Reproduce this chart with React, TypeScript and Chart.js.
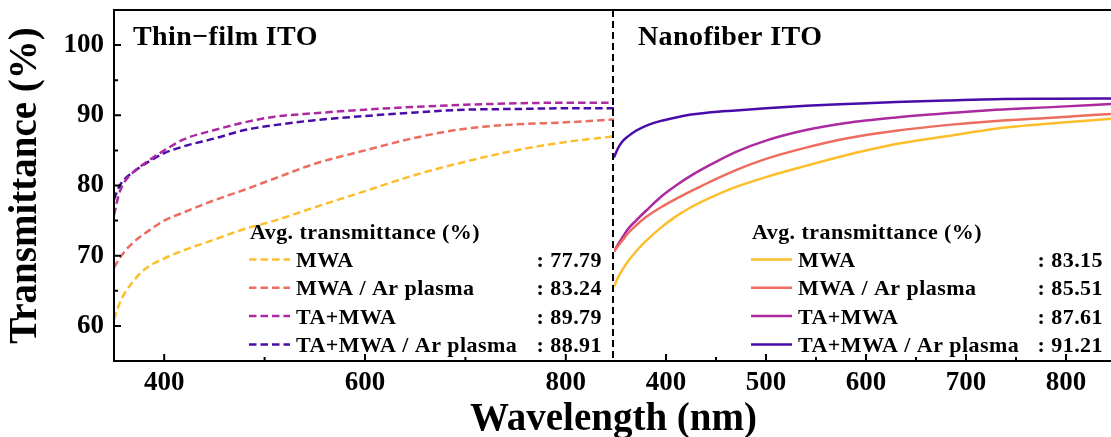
import { useEffect, useRef } from "react";
import { Chart, registerables } from "chart.js";
Chart.register(...registerables);

const FONT = '"Liberation Serif", "Times New Roman", serif';

const seriesLabels = ["MWA", "MWA / Ar plasma", "TA+MWA", "TA+MWA / Ar plasma"];
const seriesColors = ["#FDBE2D", "#EC6C5F", "#AC2A9F", "#4A0CA9"];

// Thin-film ITO (dashed)
const thinWavelength = [350, 355, 360, 370, 380, 400, 420, 450, 480, 510, 550, 600, 650, 700, 750, 800, 848];
const thinMWA = [60.9, 63.0, 64.5, 66.5, 68.0, 69.6, 70.8, 72.3, 73.8, 75.0, 76.9, 79.2, 81.5, 83.4, 85.0, 86.2, 87.0];
const thinMWAAr = [68.3, 69.5, 70.5, 72.0, 73.1, 75.0, 76.2, 77.9, 79.4, 81.0, 83.1, 85.0, 86.8, 88.1, 88.7, 89.0, 89.4];
const thinTAMWA = [75.8, 78.8, 80.4, 82.0, 83.1, 85.0, 86.6, 87.9, 89.0, 89.8, 90.3, 90.8, 91.2, 91.5, 91.7, 91.8, 91.8];
const thinTAMWAAr = [78.0, 79.8, 80.8, 82.0, 83.0, 84.6, 85.6, 86.7, 87.9, 88.6, 89.3, 89.9, 90.4, 90.8, 90.9, 91.0, 91.0];
const thinAvg = [77.79, 83.24, 89.79, 88.91];

// Nanofiber ITO (solid)
const nanoWavelength = [348, 352, 356, 362, 370, 380, 395, 410, 425, 445, 470, 500, 540, 580, 630, 680, 730, 790, 845];
const nanoMWA = [65.6, 66.9, 67.9, 69.2, 70.6, 72.1, 74.0, 75.6, 76.9, 78.3, 79.8, 81.2, 82.8, 84.3, 85.9, 87.0, 88.1, 88.9, 89.5];
const nanoMWAAr = [70.6, 71.4, 72.1, 73.2, 74.3, 75.5, 76.9, 78.1, 79.2, 80.6, 82.2, 83.8, 85.4, 86.7, 87.8, 88.6, 89.2, 89.7, 90.2];
const nanoTAMWA = [70.6, 71.6, 72.5, 73.8, 75.0, 76.4, 78.4, 80.0, 81.4, 83.0, 84.8, 86.4, 87.9, 88.9, 89.7, 90.3, 90.8, 91.2, 91.6];
const nanoTAMWAAr = [84.0, 85.3, 86.2, 87.0, 87.8, 88.5, 89.2, 89.7, 90.1, 90.45, 90.7, 91.0, 91.35, 91.6, 91.9, 92.1, 92.3, 92.35, 92.4];
const nanoAvg = [83.15, 85.51, 87.61, 91.21];

const yMajorTicks = [60, 70, 80, 90, 100];
const yMinorTicks = [65, 75, 85, 95];
const thinMajorTicks = [400, 600, 800];
const thinMinorTicks = [500, 700];
const nanoMajorTicks = [400, 500, 600, 700, 800];
const nanoMinorTicks = [450, 550, 650, 750];

const Y_MIN = 55;
const Y_MAX = 105;

type PanelCfg = {
  isLeft: boolean;
  title: string;
  titleX: number;
  legendX: number;
  valueRight: number;
  avg: number[];
  dash: number[];
  majors: number[];
  minors: number[];
};

function decoPlugin(cfg: PanelCfg) {
  return {
    id: "deco",
    afterDraw(chart: any) {
      const { ctx, chartArea: a, scales } = chart;
      const xs = scales.x;
      const ys = scales.y;
      ctx.save();
      ctx.strokeStyle = "#000";
      ctx.lineWidth = 2;
      ctx.setLineDash([]);
      ctx.beginPath();
      const x0 = cfg.isLeft ? a.left - 1 : 0;
      ctx.moveTo(x0, a.top);
      ctx.lineTo(chart.width, a.top);
      ctx.moveTo(x0, a.bottom);
      ctx.lineTo(chart.width, a.bottom);
      if (cfg.isLeft) {
        ctx.moveTo(a.left, a.top - 1);
        ctx.lineTo(a.left, a.bottom + 1);
      }
      for (const v of cfg.majors) {
        const px = xs.getPixelForValue(v);
        ctx.moveTo(px, a.bottom);
        ctx.lineTo(px, a.bottom - 7);
      }
      for (const v of cfg.minors) {
        const px = xs.getPixelForValue(v);
        ctx.moveTo(px, a.bottom);
        ctx.lineTo(px, a.bottom - 4);
      }
      if (cfg.isLeft) {
        for (const v of yMajorTicks) {
          const py = ys.getPixelForValue(v);
          ctx.moveTo(a.left, py);
          ctx.lineTo(a.left + 7, py);
        }
        for (const v of yMinorTicks) {
          const py = ys.getPixelForValue(v);
          ctx.moveTo(a.left, py);
          ctx.lineTo(a.left + 4, py);
        }
      }
      ctx.stroke();

      if (cfg.isLeft) {
        ctx.beginPath();
        ctx.setLineDash([7, 4]);
        ctx.moveTo(a.right - 1, a.top);
        ctx.lineTo(a.right - 1, a.bottom);
        ctx.stroke();
        ctx.setLineDash([]);
      }

      // panel title
      ctx.fillStyle = "#000";
      ctx.textBaseline = "alphabetic";
      ctx.textAlign = "left";
      try {
        (ctx as any).letterSpacing = "0.4px";
      } catch (e) {}
      ctx.font = `bold 28px ${FONT}`;
      ctx.fillText(cfg.title, cfg.titleX, 45);

      // legend
      try {
        (ctx as any).letterSpacing = "0.45px";
      } catch (e) {}
      ctx.font = `bold 22px ${FONT}`;
      ctx.fillText("Avg. transmittance (%)", cfg.legendX + 1, 239);
      const datasets = chart.data.datasets;
      datasets.forEach((ds: any, i: number) => {
        const base = 267 + i * 28.3;
        ctx.beginPath();
        ctx.strokeStyle = ds.borderColor;
        ctx.lineWidth = 2.5;
        ctx.setLineDash(cfg.dash);
        ctx.moveTo(cfg.legendX, base - 7.5);
        ctx.lineTo(cfg.legendX + 41, base - 7.5);
        ctx.stroke();
        ctx.setLineDash([]);
        ctx.fillStyle = "#000";
        ctx.textAlign = "left";
        ctx.fillText(ds.label, cfg.legendX + 47, base);
        ctx.textAlign = "right";
        ctx.fillText(": " + cfg.avg[i].toFixed(2), cfg.valueRight, base);
      });
      try {
        (ctx as any).letterSpacing = "0px";
      } catch (e) {}
      ctx.restore();
    },
  };
}

function makeDatasets(xsArr: number[], series: number[][], dash: number[]) {
  return series.map((vals, i) => ({
    label: seriesLabels[i],
    data: xsArr.map((w, j) => ({ x: w, y: vals[j] })),
    borderColor: seriesColors[i],
    backgroundColor: seriesColors[i],
    borderWidth: 2.5,
    borderDash: dash,
    pointRadius: 0,
    cubicInterpolationMode: "monotone" as const,
    fill: false,
  }));
}

function buildConfig(
  isLeft: boolean,
  xsArr: number[],
  series: number[][],
  xMin: number,
  xMax: number,
  majors: number[],
  cfg: PanelCfg
): any {
  return {
    type: "line",
    data: { datasets: makeDatasets(xsArr, series, cfg.dash) },
    options: {
      animation: false,
      responsive: false,
      layout: { padding: { top: 10, left: 0, right: 0, bottom: 0 } },
      plugins: { legend: { display: false }, tooltip: { enabled: false } },
      scales: {
        x: {
          type: "linear",
          min: xMin,
          max: xMax,
          border: { display: false },
          grid: { display: false, drawTicks: false },
          afterBuildTicks: (s: any) => {
            s.ticks = majors.map((v) => ({ value: v }));
          },
          afterFit: (s: any) => {
            s.height = 76;
            s.paddingLeft = 0;
            s.paddingRight = 0;
          },
          ticks: {
            color: "#000",
            padding: 6,
            maxRotation: 0,
            autoSkip: false,
            font: { family: FONT, size: 27, weight: "bold" },
          },
        },
        y: {
          display: isLeft,
          min: Y_MIN,
          max: Y_MAX,
          border: { display: false },
          grid: { display: false, drawTicks: false },
          afterBuildTicks: (s: any) => {
            s.ticks = yMajorTicks.map((v) => ({ value: v }));
          },
          afterFit: (s: any) => {
            s.width = isLeft ? 114 : 0;
            s.paddingTop = 0;
            s.paddingBottom = 0;
          },
          ticks: {
            color: "#000",
            padding: 10,
            font: { family: FONT, size: 27, weight: "bold" },
          },
          title: {
            display: true,
            text: "Transmittance (%)",
            color: "#000",
            padding: { top: 3, bottom: 0 },
            font: { family: FONT, size: 39, weight: "bold" },
          },
        },
      },
    },
    plugins: [decoPlugin(cfg)],
  };
}

export default function App() {
  const leftRef = useRef<HTMLCanvasElement>(null);
  const rightRef = useRef<HTMLCanvasElement>(null);

  useEffect(() => {
    const left = new Chart(
      leftRef.current as HTMLCanvasElement,
      buildConfig(
        true,
        thinWavelength,
        [thinMWA, thinMWAAr, thinTAMWA, thinTAMWAAr],
        350,
        848,
        thinMajorTicks,
        {
          isLeft: true,
          title: "Thin\u2212film ITO",
          titleX: 133,
          legendX: 249,
          valueRight: 602,
          avg: thinAvg,
          dash: [7.5, 4],
          majors: thinMajorTicks,
          minors: thinMinorTicks,
        }
      )
    );
    const right = new Chart(
      rightRef.current as HTMLCanvasElement,
      buildConfig(
        false,
        nanoWavelength,
        [nanoMWA, nanoMWAAr, nanoTAMWA, nanoTAMWAAr],
        348,
        845,
        nanoMajorTicks,
        {
          isLeft: false,
          title: "Nanofiber ITO",
          titleX: 24,
          legendX: 137,
          valueRight: 489,
          avg: nanoAvg,
          dash: [],
          majors: nanoMajorTicks,
          minors: nanoMinorTicks,
        }
      )
    );
    return () => {
      left.destroy();
      right.destroy();
    };
  }, []);

  return (
    <div style={{ position: "absolute", left: 0, top: 0, width: 1111, height: 437, background: "#fff", overflow: "hidden" }}>
      <canvas ref={leftRef} width={614} height={437} style={{ position: "absolute", left: 0, top: 0, width: 614, height: 437 }} />
      <canvas ref={rightRef} width={497} height={437} style={{ position: "absolute", left: 614, top: 0, width: 497, height: 437 }} />
      <div
        style={{
          position: "absolute",
          left: 413.5,
          width: 400,
          top: 397,
          textAlign: "center",
          fontFamily: FONT,
          fontWeight: "bold",
          fontSize: 39,
          lineHeight: "39px",
          color: "#000",
          whiteSpace: "nowrap",
        }}
      >
        Wavelength (nm)
      </div>
    </div>
  );
}
